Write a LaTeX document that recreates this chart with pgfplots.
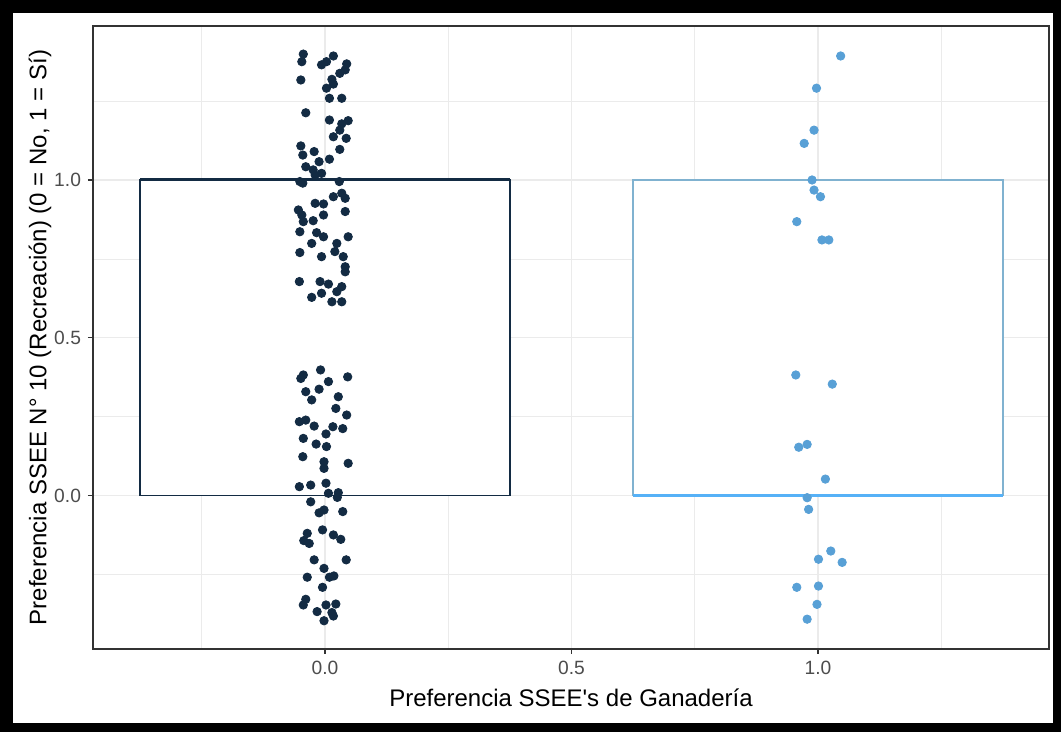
\documentclass[border=0pt]{standalone}
\usepackage{fontspec}
\setmainfont{Liberation Sans}
\usepackage{pgfplots}
\pgfplotsset{compat=1.18}

\definecolor{lowc}{HTML}{132B43}
\definecolor{highpt}{RGB}{88,160,214}
\definecolor{highmed}{HTML}{56B1F7}
\definecolor{highedge}{RGB}{128,178,208}
\definecolor{gridc}{HTML}{EBEBEB}
\definecolor{framec}{HTML}{333333}
\definecolor{ticktext}{HTML}{4D4D4D}

% jittered points, group 0
\pgfplotstableread{
x y
-0.044 1.399
-0.047 1.375
-0.049 1.317
-0.007 1.365
0.003 1.375
0.017 1.393
0.044 1.368
0.041 1.349
0.030 1.338
0.014 1.319
0.017 1.304
0.003 1.291
0.009 1.259
0.034 1.259
-0.039 1.213
0.009 1.190
0.047 1.188
0.034 1.178
0.030 1.158
0.017 1.137
0.043 1.132
0.030 1.097
-0.049 1.108
-0.045 1.079
-0.022 1.090
0.009 1.066
-0.012 1.058
-0.039 1.042
-0.024 1.032
-0.007 1.021
-0.020 1.016
-0.051 0.995
-0.045 0.990
0.029 0.995
0.017 0.947
0.034 0.958
0.041 0.942
-0.020 0.926
-0.003 0.924
-0.054 0.905
-0.047 0.889
-0.003 0.889
-0.044 0.868
-0.024 0.871
0.041 0.900
-0.051 0.836
-0.017 0.833
-0.003 0.820
0.047 0.820
-0.027 0.799
0.024 0.799
-0.051 0.770
0.020 0.773
-0.007 0.757
0.037 0.757
0.041 0.725
0.041 0.709
-0.052 0.678
-0.010 0.678
0.007 0.670
-0.007 0.641
0.034 0.662
0.024 0.646
-0.027 0.628
0.014 0.614
0.034 0.614
-0.044 0.382
-0.049 0.371
-0.009 0.398
0.007 0.361
0.046 0.376
-0.012 0.337
-0.039 0.329
-0.027 0.303
0.027 0.313
0.022 0.276
0.044 0.255
-0.052 0.234
-0.039 0.239
-0.022 0.220
0.016 0.218
0.036 0.212
0.002 0.195
-0.044 0.181
-0.018 0.163
0.003 0.155
-0.045 0.123
-0.002 0.107
-0.002 0.086
0.047 0.102
-0.052 0.028
-0.029 0.033
0.002 0.039
0.007 0.007
0.027 0.009
0.025 -0.006
-0.029 -0.020
-0.012 -0.055
-0.002 -0.046
0.036 -0.051
-0.005 -0.109
-0.036 -0.120
-0.043 -0.143
-0.032 -0.152
0.017 -0.125
0.032 -0.139
-0.022 -0.204
0.043 -0.204
-0.002 -0.231
0.009 -0.259
0.018 -0.255
-0.036 -0.259
-0.005 -0.291
-0.039 -0.329
-0.044 -0.347
0.002 -0.347
0.022 -0.344
-0.016 -0.368
0.014 -0.371
0.017 -0.382
-0.002 -0.397
}\groupzero

% jittered points, group 1
\pgfplotstableread{
x y
1.046 1.393
0.997 1.291
0.992 1.158
0.972 1.116
0.988 1.000
0.992 0.968
1.005 0.947
0.957 0.868
1.008 0.810
1.022 0.810
0.955 0.382
1.029 0.353
0.961 0.153
0.978 0.162
1.015 0.052
0.978 -0.007
0.981 -0.044
1.026 -0.176
1.001 -0.202
1.049 -0.212
0.957 -0.291
1.001 -0.287
0.998 -0.345
0.978 -0.392
}\groupone

\begin{document}
\begin{tikzpicture}
\fill[black] (-46.5pt,-41.5pt) rectangle (484pt,324.5pt);
\fill[white] (-40pt,-37pt) rectangle (480pt,318pt);
\begin{axis}[
    at={(0,0)}, anchor=south west,
    scale only axis,
    width=478pt, height=311.5pt,
    xmin=-0.4706, xmax=1.4686,
    ymin=-0.4865, ymax=1.4881,
    xtick={0,0.5,1}, xticklabels={0.0,0.5,1.0},
    ytick={0,0.5,1}, yticklabels={0.0,0.5,1.0},
    minor xtick={-0.25,0.25,0.75,1.25},
    minor ytick={-0.25,0.25,0.75,1.25},
    grid=both,
    major grid style={draw=gridc, line width=0.6pt},
    minor grid style={draw=gridc, line width=0.35pt},
    minor tick length=0pt,
    major tick length=2.5pt,
    tick align=outside,
    xtick pos=bottom, ytick pos=left,
    tick style={draw=framec, line width=0.6pt},
    axis line style={draw=framec, line width=0.7pt},
    ticklabel style={font=\fontsize{9.6}{11}\selectfont, text=ticktext},
    xlabel={Preferencia SSEE\textquotesingle s de Ganadería},
    ylabel={Preferencia SSEE N° 10 (Recreación) (0 = No, 1 = Sí)},
    label style={font=\fontsize{12}{14}\selectfont},
    xlabel style={at={(axis description cs:0.5,-0.0787)}, anchor=center},
    ylabel style={at={(axis description cs:-0.0555,0.5)}, anchor=center},
]
% box for group 0 (quartiles 0 and 1, median 1)
\addplot[draw=lowc, line width=0.8pt, fill=white] coordinates {(-0.375,0) (0.375,0) (0.375,1) (-0.375,1)} -- cycle;
\addplot[draw=lowc, line width=1.5pt] coordinates {(-0.375,1) (0.375,1)};
% box for group 1 (median 0)
\addplot[draw=highedge, line width=0.8pt, fill=white] coordinates {(0.625,0) (1.375,0) (1.375,1) (0.625,1)} -- cycle;
\addplot[draw=highmed, line width=1.5pt] coordinates {(0.625,0) (1.375,0)};

\addplot[only marks, mark=*, mark size=2.1pt, draw=lowc, fill=lowc] table[x=x, y=y] {\groupzero};
\addplot[only marks, mark=*, mark size=2.1pt, draw=highpt, fill=highpt] table[x=x, y=y] {\groupone};
\end{axis}
\end{tikzpicture}
\end{document}
